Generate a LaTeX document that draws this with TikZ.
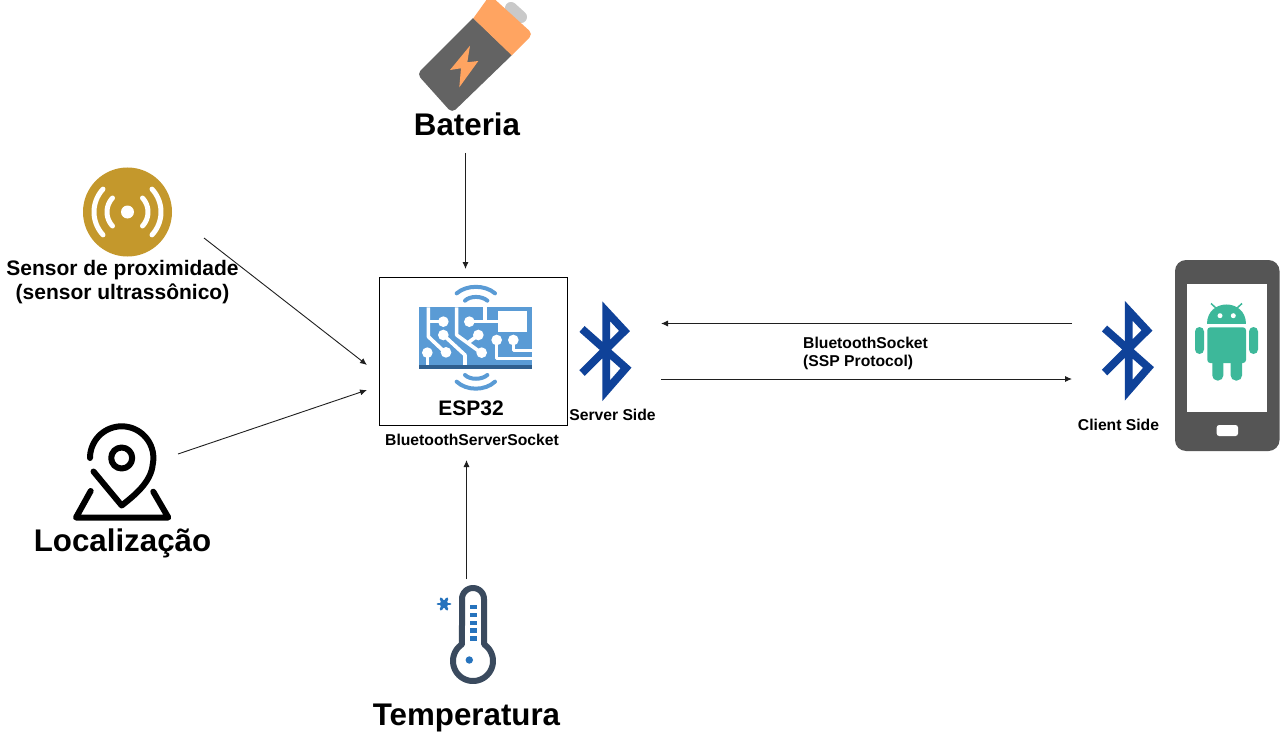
\documentclass[tikz,border=0pt]{standalone}
\usepackage{fontspec}
\setmainfont{Liberation Sans}
\usetikzlibrary{arrows.meta}
\definecolor{batgray}{HTML}{636363}
\definecolor{batorange}{HTML}{FFA461}
\definecolor{batnub}{HTML}{C9C9C9}
\definecolor{sensorgold}{HTML}{C4982C}
\definecolor{chipblue}{HTML}{5A9BD5}
\definecolor{chipdark}{HTML}{2F5F8F}
\definecolor{btblue}{HTML}{0F4299}
\definecolor{phonegray}{HTML}{555555}
\definecolor{droid}{HTML}{3DB89A}
\definecolor{thermo}{HTML}{3A4A5E}
\definecolor{thermoblue}{HTML}{2673BD}
\tikzset{
  link/.style={draw=black!88,line width=0.9pt,-{Latex[length=7pt,width=6pt]}},
  big/.style={font=\fontsize{31.3}{31}\selectfont\bfseries,inner sep=0pt},
  mid/.style={font=\fontsize{21}{24}\selectfont\bfseries,inner sep=0pt,align=center},
  small/.style={font=\fontsize{15.7}{18}\selectfont\bfseries,inner sep=0pt,align=left},
  trace/.style={draw=white,line width=3.6pt,line join=round},
  wave/.style={draw=chipblue,line width=4pt,line cap=round},
  pinline/.style={draw=black,line width=6pt,line cap=round,line join=round},
  btrune/.pic={\draw[btblue,line width=7.8pt,miter limit=10] (-20,22) -- (22.5,-20) -- (4.3,-39.6) -- (4.3,39.6) -- (24,17) -- (-20,-22);},
}
\begin{document}
\begin{tikzpicture}[x=1pt,y=-1pt]
\useasboundingbox (0,0) rectangle (1280,733);
\fill[white] (0,0) rectangle (1280,733);
\begin{scope}
\clip (0,0) rectangle (1280,733);
% battery
\draw[batnub,line width=12pt,line cap=round] (511,8) -- (521,17);
\fill[batgray] (473,18) -- (512,55) [rounded corners=5pt] -- (452,113) -- (417,74) [sharp corners] -- cycle;
\fill[batorange] (473.3,18.3) -- (511.7,55.3) [rounded corners=5pt] -- (533,34) -- (490,-5) [sharp corners] -- cycle;
\fill[batorange] (470,45.7) -- (450,70) -- (461,68.3) -- (459.3,87.3) -- (478.3,61) -- (467.3,62.3) -- cycle;
\end{scope}
% sensor
\fill[sensorgold] (127.5,212) circle[radius=44.5];
\fill[white] (127.5,212) circle[radius=6.5];
\foreach \r in {20.5,33.5}{
  \draw[white,line width=5pt,line cap=round] plot[domain=137:223,samples=20] ({127.5+\r*cos(\x)},{212+\r*sin(\x)});
  \draw[white,line width=5pt,line cap=round] plot[domain=-43:43,samples=20] ({127.5+\r*cos(\x)},{212+\r*sin(\x)});
}
% location
\draw[pinline] (121.7,458) circle[radius=10.5];
\draw[pinline] plot[domain=180:372,samples=40] ({121.7+31.7*cos(\x)},{458+31.7*sin(\x)})
   .. controls (151,482) and (135,495) .. (121.7,505.5) -- (93.5,471.5);
\draw[pinline] (90.7,491) -- (76,517.5) -- (168.3,517.5) -- (153.3,491.7);
% thermometer
\draw[thermo,line width=6pt,line join=round] plot[domain=180:360,samples=20] ({473+11*cos(\x)},{599+11*sin(\x)})
   -- (484,644.3) -- plot[domain=-56.6:236.6,samples=50] ({473+20*cos(\x)},{661+20*sin(\x)}) -- cycle;
\fill[thermoblue] (469.3,660) circle[radius=3.7];
\foreach \a/\b in {604.7/609,612.7/617.3,620.7/625.3,628.3/632.7,636/640.7}
  \fill[thermoblue] (470,\a) rectangle (476.7,\b);
\foreach \t in {0,60,120}
  \draw[thermoblue,line width=2.8pt,line cap=round] ({444+6*cos(\t)},{604+6*sin(\t)}) -- ({444-6*cos(\t)},{604-6*sin(\t)});
\fill[thermoblue] (444,604) circle[radius=4.2];
% ESP32 box
\node[draw=black,line width=0.9pt,minimum width=188pt,minimum height=148pt,inner sep=0pt] (esp) at (473,351) {};
\begin{scope}[shift={(410,280)},x=0.33333pt,y=-0.33333pt]
  \fill[chipblue] (27,82) rectangle (365,268);
  \fill[white] (263,93) rectangle (352,157);
  \draw[trace] (55,82) -- (55,170) -- (105,217);
  \draw[trace] (55,125) -- (100,125);
  \draw[trace] (100,165) -- (165,225) -- (165,258);
  \draw[trace] (52,218) -- (52,258);
  \draw[trace] (140,82) -- (140,165) -- (213,218);
  \draw[trace] (178,125) -- (263,125);
  \draw[trace] (225,82) -- (225,125);
  \draw[trace] (205,165) -- (172,190);
  \draw[trace] (260,180) -- (260,235) -- (365,235);
  \draw[trace] (310,180) -- (310,212) -- (365,212);
  \foreach \p in {(100,125),(100,165),(108,217),(52,218),(178,125),(205,165),(215,218),(260,180),(310,180)}
    \fill[white] \p circle[radius=16];
  \fill[chipdark] (27,256) rectangle (365,268);
  \draw[wave] (140,40) .. controls (170,14) and (225,14) .. (255,40);
  \draw[wave] (165,62) .. controls (180,47) and (215,47) .. (232,62);
  \draw[wave] (165,285) .. controls (180,300) and (215,300) .. (232,285);
  \draw[wave] (140,305) .. controls (170,333) and (225,333) .. (255,305);
\end{scope}
\pic at (602,351) {btrune};
\pic at (1124.5,350.5) {btrune};
% phone
\fill[phonegray,rounded corners=11pt] (1175,260) rectangle (1279.5,451);
\fill[white] (1186.7,284.3) rectangle (1267.3,411.7);
\fill[white,rounded corners=2.5pt] (1216.7,425) rectangle (1238,436);
% android
\fill[droid] (1207.3,324.3) .. controls (1207.3,298) and (1246,298) .. (1246,324.3) -- cycle;
\draw[droid,line width=1.5pt] (1211,303.5) -- (1217,309);
\draw[droid,line width=1.5pt] (1242,303.5) -- (1236,309);
\fill[white] (1220,315.7) circle[radius=2.5];
\fill[white] (1233.3,315.7) circle[radius=2.5];
\fill[droid,rounded corners=3pt] (1207.3,327.3) rectangle (1246,363);
\fill[droid,rounded corners=4.5pt] (1195,327) rectangle (1204,354);
\fill[droid,rounded corners=4.5pt] (1249,327) rectangle (1258,354);
\fill[droid,rounded corners=5pt] (1212.3,350) rectangle (1223.3,380.5);
\fill[droid,rounded corners=5pt] (1230.7,350) rectangle (1242,380.5);
% labels
\node[big] (bat) at (467,124.5) {Bateria};
\node[big] (loc) at (122.5,543.5) {Localização};
\node[big] (temp) at (466.5,717.5) {Temperatura};
\node[mid] (sens) at (122.5,282) {Sensor de proximidade\\(sensor ultrassônico)};
\node[mid] (esplabel) at (471,408) {ESP32};
\node[small] (srvsock) at (472,440) {BluetoothServerSocket};
\node[small] (srv) at (612.5,415) {Server Side};
\node[small] (cli) at (1118.5,424.5) {Client Side};
\node[small,anchor=west] (sock) at (803,353.5) {BluetoothSocket\\(SSP Protocol)};
% connector ends
\coordinate (batout) at (465.5,153);
\coordinate (batin) at (465.5,269);
\coordinate (sensout) at (204,238);
\coordinate (sensin) at (367,365);
\coordinate (locout) at (178,454);
\coordinate (locin) at (367,390);
\coordinate (tempout) at (466.5,579);
\coordinate (tempin) at (466.5,460);
\coordinate (srvtop) at (661,323.5);
\coordinate (clitop) at (1072,323.5);
\coordinate (srvbot) at (661,379);
\coordinate (clibot) at (1072,379);
\draw[link] (batout) -- (batin);
\draw[link] (sensout) -- (sensin);
\draw[link] (locout) -- (locin);
\draw[link] (tempout) -- (tempin);
\draw[link] (clitop) -- (srvtop);
\draw[link] (srvbot) -- (clibot);
\end{tikzpicture}
\end{document}
